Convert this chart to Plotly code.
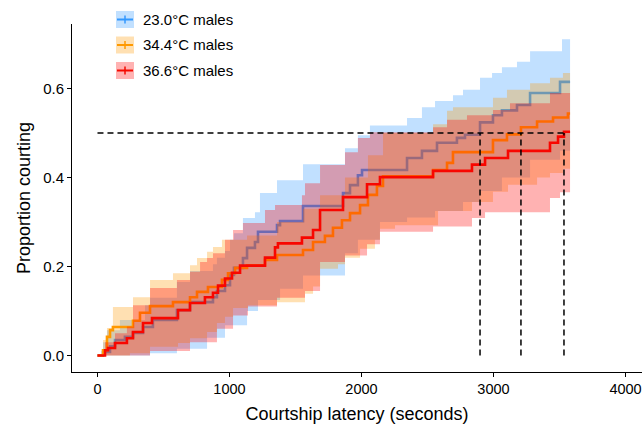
import plotly.graph_objects as go

# ---------------- data ----------------
groups = ["23.0°C males", "34.4°C males", "36.6°C males"]

# 23.0 °C males
t_230 = [0, 42, 95, 133, 208, 269, 345, 420, 602, 701, 875, 905, 966, 1004, 1034, 1102, 1133, 1193, 1216, 1360,
         1383, 1557, 1860, 1913, 1973, 2004, 2345, 2458, 2572, 2723, 2784, 2898, 2996, 3064, 3178, 3277, 3504, 3580]
p_230 = [0, 0.008, 0.021, 0.035, 0.042, 0.051, 0.064, 0.080, 0.102, 0.120, 0.131, 0.145, 0.158, 0.181, 0.197, 0.219,
         0.242, 0.255, 0.278, 0.293, 0.302, 0.336, 0.365, 0.383, 0.405, 0.417, 0.444, 0.460, 0.478, 0.489, 0.496,
         0.524, 0.540, 0.551, 0.563, 0.590, 0.615, 0.615]
t_230_hi = [0, 42, 72, 170, 360, 398, 602, 701, 875, 905, 966, 1004, 1034, 1102, 1193, 1231, 1360, 1557, 1875, 1973,
            2064, 2345, 2458, 2557, 2693, 2769, 2898, 2989, 3064, 3178, 3277, 3519, 3580]
p_230_hi = [0, 0.03, 0.057, 0.08, 0.113, 0.13, 0.165, 0.19, 0.205, 0.22, 0.235, 0.26, 0.275, 0.309, 0.322, 0.365,
            0.394, 0.430, 0.466, 0.495, 0.517, 0.534, 0.558, 0.572, 0.585, 0.597, 0.624, 0.635, 0.648, 0.660, 0.684,
            0.711, 0.711]
t_230_lo = [0, 398, 602, 830, 966, 1133, 1216, 1383, 1557, 1875, 1973, 2140, 2345, 2557, 2769, 2898, 3064, 3277,
            3504, 3580]
p_230_lo = [0, 0.005, 0.015, 0.04, 0.068, 0.10, 0.125, 0.15, 0.18, 0.23, 0.26, 0.30, 0.31, 0.325, 0.345, 0.37,
            0.40, 0.44, 0.46, 0.46]

# 34.4 °C males
t_344 = [0, 42, 72, 95, 117, 269, 322, 398, 572, 701, 754, 837, 943, 989, 1042, 1133, 1269, 1360, 1557, 1633,
         1723, 1784, 1852, 1913, 1989, 2049, 2117, 2163, 2542, 2648, 2693, 2996, 3102, 3208, 3330, 3451, 3564, 3580]
p_344 = [0, 0.012, 0.042, 0.057, 0.064, 0.078, 0.096, 0.111, 0.120, 0.131, 0.143, 0.154, 0.170, 0.185, 0.197, 0.203,
         0.215, 0.226, 0.237, 0.255, 0.269, 0.287, 0.304, 0.320, 0.338, 0.361, 0.381, 0.403, 0.417, 0.433, 0.457,
         0.484, 0.497, 0.513, 0.526, 0.535, 0.544, 0.544]
t_344_hi = [0, 42, 72, 117, 269, 398, 572, 701, 754, 830, 875, 943, 1133, 1360, 1557, 1686, 1875, 2049, 2163, 2542,
            2648, 2693, 2996, 3102, 3277, 3428, 3526, 3580]
p_344_hi = [0, 0.035, 0.062, 0.109, 0.131, 0.170, 0.185, 0.203, 0.219, 0.233, 0.244, 0.260, 0.27, 0.30, 0.33, 0.36,
            0.40, 0.45, 0.50, 0.52, 0.55, 0.558, 0.579, 0.597, 0.612, 0.624, 0.635, 0.635]
t_344_lo = [0, 246, 398, 610, 701, 830, 905, 966, 1027, 1140, 1360, 1572, 1633, 1686, 1822, 1875, 1989, 2102, 2140,
            2254, 2580, 2837, 2996, 3110, 3330, 3428, 3526, 3580]
p_344_lo = [0, 0.005, 0.02, 0.028, 0.039, 0.053, 0.073, 0.087, 0.107, 0.113, 0.12, 0.139, 0.155, 0.195, 0.205, 0.22,
            0.24, 0.26, 0.285, 0.293, 0.325, 0.345, 0.368, 0.384, 0.40, 0.41, 0.42, 0.42]

# 36.6 °C males
t_366 = [0, 57, 80, 133, 223, 269, 345, 413, 610, 701, 814, 875, 913, 966, 1019, 1080, 1269, 1345, 1367, 1549,
         1633, 1686, 1860, 2042, 2140, 2542, 2837, 2936, 3110, 3428, 3489, 3534, 3580]
p_366 = [0, 0.012, 0.017, 0.028, 0.039, 0.053, 0.073, 0.084, 0.102, 0.118, 0.131, 0.141, 0.157, 0.173, 0.186, 0.202,
         0.220, 0.243, 0.252, 0.265, 0.282, 0.327, 0.356, 0.385, 0.401, 0.415, 0.429, 0.444, 0.460, 0.478, 0.492,
         0.503, 0.503]
t_366_hi = [0, 57, 133, 223, 269, 398, 602, 701, 777, 830, 875, 966, 1027, 1102, 1269, 1345, 1549, 1572, 1686, 1875,
            1973, 2064, 2542, 2648, 2799, 2996, 3125, 3428, 3580]
p_366_hi = [0, 0.03, 0.05, 0.065, 0.113, 0.152, 0.17, 0.188, 0.21, 0.219, 0.23, 0.26, 0.282, 0.298, 0.327, 0.338,
            0.36, 0.387, 0.428, 0.457, 0.489, 0.502, 0.513, 0.53, 0.54, 0.552, 0.567, 0.59, 0.59]
t_366_lo = [0, 398, 701, 905, 1027, 1140, 1360, 1572, 1686, 1875, 2042, 2140, 2542, 2837, 2936, 3428, 3504, 3580]
p_366_lo = [0, 0.01, 0.03, 0.06, 0.09, 0.11, 0.13, 0.145, 0.21, 0.225, 0.25, 0.278, 0.29, 0.309, 0.322, 0.354,
            0.367, 0.367]

median_times = [2898, 3208, 3534]
median_level = 0.5

x_ticks = [0, 1000, 2000, 3000, 4000]
y_ticks = [0.0, 0.2, 0.4, 0.6]
y_ticktext = ["0.0", "0.2", "0.4", "0.6"]

# ---------------- styling ----------------
line_colors = ["#3399FF", "#FF9900", "#F50A00"]
fill_colors = ["rgba(51,153,255,0.3)", "rgba(255,153,0,0.3)", "rgba(255,0,0,0.3)"]
FONT = "Liberation Sans, Arial, Helvetica, sans-serif"

series = [
    (t_230, p_230, t_230_lo, p_230_lo, t_230_hi, p_230_hi),
    (t_344, p_344, t_344_lo, p_344_lo, t_344_hi, p_344_hi),
    (t_366, p_366, t_366_lo, p_366_lo, t_366_hi, p_366_hi),
]

fig = go.Figure()
for i, (t, p, tl, pl, th, ph) in enumerate(series):
    fig.add_trace(go.Scatter(x=t, y=p, mode="lines", line=dict(color=line_colors[i], width=2.6, shape="hv"),
                             showlegend=False, hoverinfo="skip"))
    fig.add_trace(go.Scatter(x=tl, y=pl, mode="lines", line=dict(width=0, shape="hv"),
                             showlegend=False, hoverinfo="skip"))
    fig.add_trace(go.Scatter(x=th, y=ph, mode="lines", line=dict(width=0, shape="hv"),
                             fill="tonexty", fillcolor=fill_colors[i], showlegend=False, hoverinfo="skip"))

# median lines
dash_style = dict(color="black", width=1.5, dash="6px,4px")
fig.add_trace(go.Scatter(x=[0, max(median_times)], y=[median_level, median_level], mode="lines",
                         line=dash_style, showlegend=False, hoverinfo="skip"))
for m in median_times:
    fig.add_trace(go.Scatter(x=[m, m], y=[0, median_level], mode="lines",
                             line=dash_style, showlegend=False, hoverinfo="skip"))

# ---------------- layout ----------------
W, H = 644, 427
ML, MR, MT, MB = 72, 2, 24, 55
PW, PH = W - ML - MR, H - MT - MB

def px(xp):
    return (xp - ML) / PW

def py(yp):
    return (H - MB - yp) / PH

shapes = []
annotations = []
for i, g in enumerate(groups):
    yc = 19.5 + 25.5 * i
    shapes.append(dict(type="rect", xref="paper", yref="paper", x0=px(116), x1=px(134),
                       y0=py(yc + 8.5), y1=py(yc - 8.5), fillcolor=fill_colors[i], line=dict(width=0)))
    shapes.append(dict(type="line", xref="paper", yref="paper", x0=px(117), x1=px(133),
                       y0=py(yc), y1=py(yc), line=dict(color=line_colors[i], width=2)))
    shapes.append(dict(type="line", xref="paper", yref="paper", x0=px(125), x1=px(125),
                       y0=py(yc + 4), y1=py(yc - 4), line=dict(color=line_colors[i], width=1.5)))
    annotations.append(dict(xref="paper", yref="paper", x=px(141), y=py(yc), text=g, showarrow=False,
                            xanchor="left", yanchor="middle", font=dict(family=FONT, size=15, color="black")))

fig.update_layout(
    width=W, height=H,
    margin=dict(l=ML, r=MR, t=MT, b=MB),
    paper_bgcolor="white", plot_bgcolor="white",
    font=dict(family=FONT, color="black"),
    shapes=shapes, annotations=annotations,
    showlegend=False,
    xaxis=dict(range=[-193, 4125], tickvals=x_ticks, showgrid=False, zeroline=False,
               showline=True, linecolor="black", linewidth=1, ticks="outside", ticklen=4,
               tickcolor="black", tickwidth=1, tickfont=dict(family=FONT, size=14.5, color="black"),
               title=dict(text="Courtship latency (seconds)", font=dict(family=FONT, size=18, color="black"),
                          standoff=10)),
    yaxis=dict(range=[-0.037, 0.745], tickvals=y_ticks, ticktext=y_ticktext, showgrid=False, zeroline=False,
               showline=True, linecolor="black", linewidth=1, ticks="outside", ticklen=4,
               tickcolor="black", tickwidth=1, tickfont=dict(family=FONT, size=15, color="black"),
               title=dict(text="Proportion courting", font=dict(family=FONT, size=18, color="black"),
                          standoff=7)),
)

fig.write_html("out.html")
